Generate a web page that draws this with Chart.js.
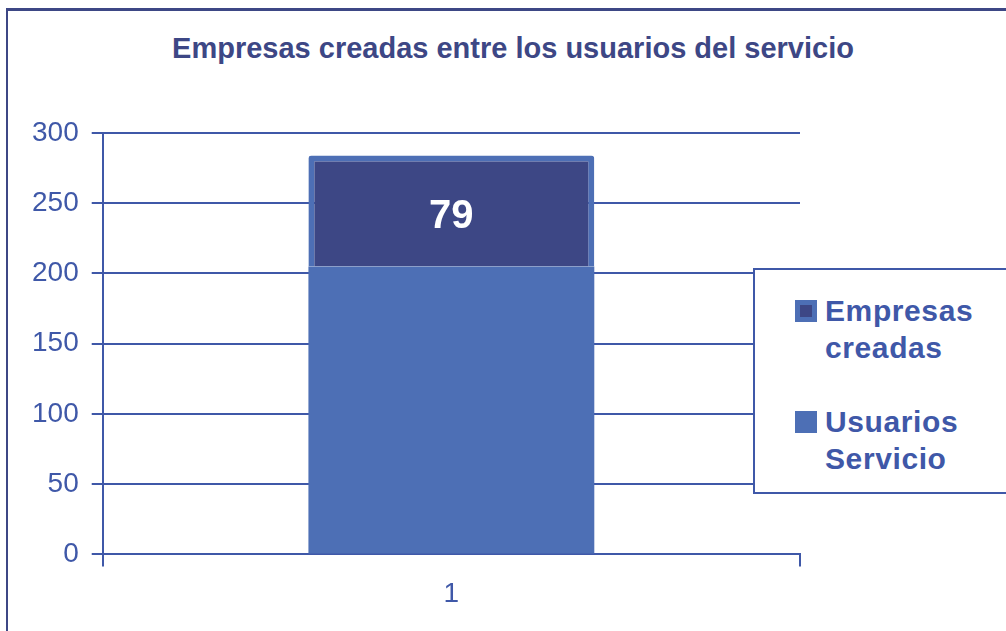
<!DOCTYPE html>
<html lang="es">
<head>
  <meta charset="UTF-8">
  <title>Empresas creadas entre los usuarios del servicio</title>
  <script src="https://cdn.jsdelivr.net/npm/chart.js"></script>
  <style>
    html, body {
      margin: 0;
      padding: 0;
      background: #fff;
      overflow: hidden;
    }
    .frame {
      position: relative;
      width: 1006px;
      height: 631px;
      font-family: "Liberation Sans", Arial, sans-serif;
    }
    .border {
      position: absolute;
      left: 6px;
      top: 8px;
      width: 1100px;
      height: 700px;
      border-top: 3px solid #3d4785;
      border-left: 2px solid #3d4785;
    }
    .title {
      position: absolute;
      left: 0;
      width: 1026px;
      top: 32px;
      text-align: center;
      font-weight: bold;
      font-size: 29px;
      color: #3d4785;
    }
    canvas {
      position: absolute;
      left: 0;
      top: 0;
    }
    .legend {
      position: absolute;
      left: 753px;
      top: 268px;
      width: 300px;
      height: 222px;
      border: 2px solid #3f58a8;
      background: #fff;
    }
    .legend-item {
      position: absolute;
      left: 40px;
      font-weight: bold;
      font-size: 30px;
      letter-spacing: 0.6px;
      line-height: 37px;
      color: #3f58a8;
      padding-left: 30px;
    }
    .legend-color {
      position: absolute;
      left: 0;
      top: 8px;
      width: 22px;
      height: 22px;
      box-sizing: border-box;
    }
  </style>
</head>
<body>
<div class="frame">
  <div class="border"></div>
  <div class="title">Empresas creadas entre los usuarios del servicio</div>
  <canvas id="chart" width="1006" height="631"></canvas>
  <div class="legend" id="legend"></div>
</div>

<script>
  // datos
  const categories = ['1'];
  const usuariosServicio = [205];
  const empresasCreadas = [79];
  const seriesNames = ['Usuarios Servicio', 'Empresas creadas'];
  const yMax = 300;
  const yStep = 50;

  const lightBlue = '#4d6fb5';
  const darkBlue = '#3d4785';
  const lineBlue = '#3f58a8';

  // etiqueta blanca dentro del segmento superior
  const valueLabel = {
    id: 'valueLabel',
    afterDatasetsDraw(chart) {
      const meta = chart.getDatasetMeta(1);
      const ctx = chart.ctx;
      meta.data.forEach((bar, i) => {
        ctx.save();
        ctx.fillStyle = '#fff';
        ctx.font = 'bold 40px "Liberation Sans", Arial, sans-serif';
        ctx.textAlign = 'center';
        ctx.textBaseline = 'middle';
        ctx.fillText(String(empresasCreadas[i]), bar.x, (bar.y + bar.base) / 2 + 6);
        ctx.restore();
      });
    }
  };

  const chart = new Chart(document.getElementById('chart'), {
    type: 'bar',
    data: {
      labels: categories,
      datasets: [
        {
          label: seriesNames[0],
          data: usuariosServicio,
          backgroundColor: lightBlue,
          borderWidth: 0
        },
        {
          label: seriesNames[1],
          data: empresasCreadas,
          backgroundColor: darkBlue,
          borderColor: lightBlue,
          borderWidth: { top: 6, left: 6, right: 6, bottom: 0 },
          borderSkipped: false,
          borderRadius: { topLeft: 3, topRight: 3 }
        }
      ]
    },
    options: {
      responsive: false,
      animation: false,
      layout: { padding: { left: 19, top: 133, right: 206, bottom: 9 } },
      plugins: {
        legend: { display: false },
        title: { display: false },
        tooltip: { enabled: false }
      },
      datasets: {
        bar: { barPercentage: 0.41, categoryPercentage: 1 }
      },
      scales: {
        x: {
          stacked: true,
          offset: true,
          grid: {
            offset: true,
            drawOnChartArea: false,
            color: lineBlue,
            lineWidth: 2,
            tickLength: 12
          },
          border: { color: lineBlue, width: 2 },
          ticks: {
            color: lineBlue,
            padding: 11,
            font: { family: '"Liberation Sans", Arial, sans-serif', size: 28 }
          }
        },
        y: {
          stacked: true,
          min: 0,
          max: yMax,
          ticks: {
            stepSize: yStep,
            color: lineBlue,
            padding: 13,
            font: { family: '"Liberation Sans", Arial, sans-serif', size: 28 }
          },
          grid: {
            color: lineBlue,
            lineWidth: 2,
            tickLength: 11
          },
          border: { color: lineBlue, width: 2 }
        }
      }
    },
    plugins: [valueLabel]
  });

  // leyenda en orden inverso, como en el original
  const legend = document.getElementById('legend');
  const tops = [22, 133];
  chart.data.datasets.slice().reverse().forEach((ds, i) => {
    const item = document.createElement('div');
    item.className = 'legend-item';
    item.style.top = tops[i] + 'px';
    const box = document.createElement('div');
    box.className = 'legend-color';
    box.style.background = ds.backgroundColor;
    if (ds.borderColor) box.style.border = '5px solid ' + ds.borderColor;
    item.appendChild(box);
    const words = ds.label.split(' ');
    item.appendChild(document.createTextNode(words[0]));
    item.appendChild(document.createElement('br'));
    item.appendChild(document.createTextNode(words.slice(1).join(' ')));
    legend.appendChild(item);
  });
</script>
</body>
</html>
